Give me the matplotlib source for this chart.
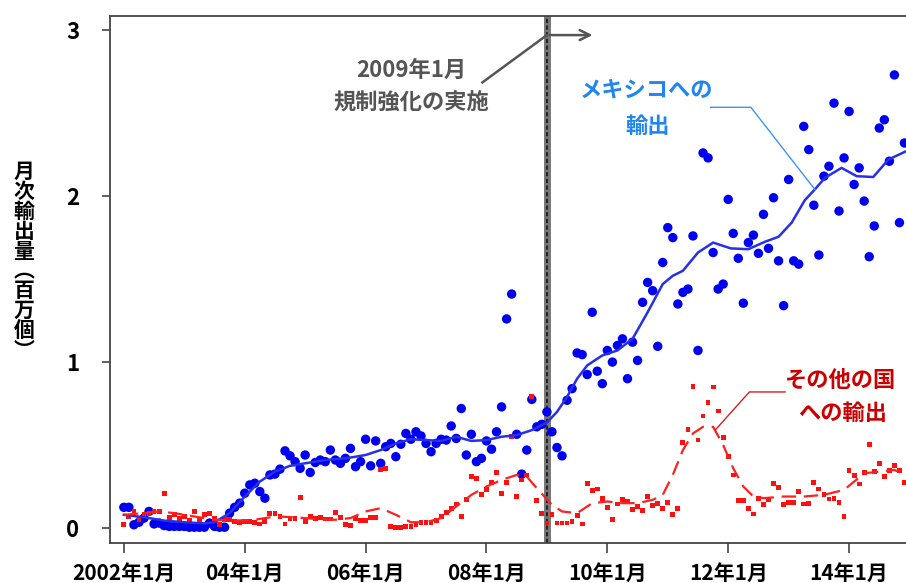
import numpy as np
import matplotlib
matplotlib.use('Agg')
import matplotlib.pyplot as plt

plt.rcParams['font.family'] = ['Noto Sans CJK JP', 'DejaVu Sans']

#-----------------------------------------------------------------------------------------------------------------------
# Data (months counted from 2002-01)

tick_months = [0, 24, 48, 72, 96, 120, 144]
tick_labels = ['2002年1月', '04年1月', '06年1月', '08年1月', '10年1月', '12年1月', '14年1月']

# monthly exports to Mexico (million units)
mexico = [0.125, 0.125, 0.02, 0.035, 0.06, 0.10, 0.025, 0.03, 0.015, 0.01,
          0.01, 0.01, 0.01, 0.005, 0.005, 0.005, 0.005, 0.03, 0.01, 0.005,
          0.005, 0.09, 0.125, 0.15, 0.21, 0.26, 0.27, 0.22, 0.18, 0.32,
          0.325, 0.355, 0.465, 0.435, 0.40, 0.36, 0.44, 0.335, 0.395, 0.41,
          0.40, 0.47, 0.41, 0.39, 0.42, 0.48, 0.37, 0.40, 0.535, 0.375,
          0.525, 0.39, 0.49, 0.51, 0.43, 0.505, 0.57, 0.535, 0.58, 0.555,
          0.51, 0.46, 0.51, 0.535, 0.53, 0.615, 0.54, 0.72, 0.44, 0.565,
          0.40, 0.42, 0.525, 0.475, 0.58, 0.73, 1.26, 1.41, 0.565, 0.325,
          0.47, 0.775, 0.61, 0.625, 0.70, 0.58, 0.485, 0.435, 0.77, 0.84,
          1.055, 1.045, 0.925, 1.30, 0.945, 0.87, 1.07, 1.00, 1.10, 1.14,
          0.90, 1.12, 1.01, 1.36, 1.48, 1.43, 1.095, 1.60, 1.81, 1.75,
          1.35, 1.42, 1.44, 1.76, 1.07, 2.26, 2.23, 1.66, 1.44, 1.47,
          1.98, 1.775, 1.625, 1.355, 1.72, 1.765, 1.655, 1.89, 1.685, 1.99,
          1.61, 1.34, 2.10, 1.61, 1.59, 2.42, 2.28, 1.945, 1.645, 2.12,
          2.18, 2.56, 1.91, 2.23, 2.51, 2.07, 2.17, 1.97, 1.635, 1.82,
          2.41, 2.46, 2.21, 2.73, 1.84, 2.32]

# monthly exports to other countries (million units)
others = [0.02, 0.07, 0.10, 0.05, 0.08, 0.09, 0.10, 0.10, 0.21, 0.065,
          0.08, 0.06, 0.07, 0.045, 0.10, 0.045, 0.08, 0.09, 0.06, 0.02,
          0.05, 0.05, 0.04, 0.03, 0.04, 0.04, 0.035, 0.025, 0.04, 0.09,
          0.09, 0.07, 0.025, 0.06, 0.06, 0.185, 0.04, 0.07, 0.06, 0.065,
          0.055, 0.055, 0.095, 0.065, 0.02, 0.015, 0.06, 0.045, 0.045, 0.065,
          0.065, 0.355, 0.36, 0.01, 0.005, 0.005, 0.01, 0.01, 0.02, 0.035,
          0.035, 0.035, 0.045, 0.07, 0.095, 0.12, 0.145, 0.07, 0.17, 0.31,
          0.30, 0.20, 0.23, 0.275, 0.335, 0.21, 0.275, 0.55, 0.19, 0.29,
          0.32, 0.795, 0.165, 0.09, 0.03, 0.08, 0.03, 0.03, 0.03, 0.04,
          0.075, 0.025, 0.27, 0.225, 0.235, 0.18, 0.125, 0.05, 0.145, 0.17,
          0.16, 0.11, 0.13, 0.105, 0.19, 0.135, 0.15, 0.12, 0.155, 0.08,
          0.12, 0.515, 0.595, 0.855, 0.53, 0.675, 0.755, 0.85, 0.705, 0.545,
          0.43, 0.32, 0.165, 0.165, 0.12, 0.085, 0.18, 0.14, 0.17, 0.27,
          0.245, 0.14, 0.155, 0.155, 0.22, 0.145, 0.15, 0.275, 0.235, 0.20,
          0.175, 0.18, 0.155, 0.07, 0.345, 0.315, 0.265, 0.335, 0.505, 0.34,
          0.39, 0.31, 0.345, 0.375, 0.345, 0.275]

# smoothed trends
mexico_trend_m = [0, 4, 8, 12, 16, 18, 21, 24, 27, 30, 33, 36, 40, 44, 48, 51, 54, 57, 60, 63,
                  66, 69, 72, 75, 78, 81, 84, 86, 88, 90, 92, 95, 98, 101, 104, 107, 109, 111,
                  114, 117, 120.5, 124, 127.3, 130, 132.6, 135.2, 137.2, 139.2, 142.5, 145.5,
                  148.8, 151.8, 155.3]
mexico_trend = [0.08, 0.065, 0.045, 0.035, 0.028, 0.035, 0.09, 0.19, 0.28, 0.34, 0.375, 0.39,
                0.41, 0.42, 0.44, 0.47, 0.51, 0.535, 0.53, 0.525, 0.55, 0.525, 0.53, 0.55, 0.56,
                0.59, 0.635, 0.70, 0.79, 0.90, 0.98, 1.04, 1.07, 1.14, 1.30, 1.47, 1.52, 1.55,
                1.66, 1.72, 1.685, 1.68, 1.725, 1.755, 1.84, 1.975, 2.04, 2.11, 2.17, 2.12,
                2.115, 2.22, 2.27]

others_trend_m = [0, 4, 7, 10, 14, 18, 22, 26, 30, 34, 38, 42, 45, 48, 51, 54, 57, 60, 63, 66,
                  69, 72, 75, 78, 80, 82, 85, 87, 90, 93, 96, 99, 102, 105, 107, 109, 111, 113,
                  115, 117, 119, 121, 123, 125, 127, 131, 135, 139, 143, 145, 147, 150, 153, 155.3]
others_trend = [0.08, 0.09, 0.10, 0.09, 0.07, 0.05, 0.045, 0.05, 0.07, 0.065, 0.055, 0.05, 0.06,
                0.10, 0.12, 0.08, 0.035, 0.035, 0.06, 0.13, 0.20, 0.25, 0.29, 0.32, 0.31, 0.24,
                0.14, 0.10, 0.09, 0.15, 0.16, 0.15, 0.15, 0.17, 0.20, 0.32, 0.47, 0.57, 0.61,
                0.61, 0.50, 0.36, 0.25, 0.19, 0.18, 0.19, 0.19, 0.20, 0.23, 0.28, 0.33, 0.34,
                0.35, 0.32]

regulation_month = 84

#-----------------------------------------------------------------------------------------------------------------------
# Plot

months = np.arange(len(mexico))

fig = plt.figure(figsize=(9.06, 5.83), dpi=100)
ax = fig.add_axes([110 / 906, 1 - 543 / 583, 1 - 110 / 906, (543 - 16) / 583])

ax.axvline(regulation_month, color='#777777', lw=5, zorder=1)
ax.axvline(regulation_month, color='#111111', lw=1.2, dashes=(2.5, 1.5), zorder=1.5)

ax.scatter(months, mexico, s=46, color='#0000f0', edgecolors='none', zorder=3)
ax.scatter(months, others, s=12, marker='s', color='#ff1010', edgecolors='none', zorder=3)
ax.plot(mexico_trend_m, mexico_trend, color='#2630e8', lw=1.8, zorder=4)
ax.plot(others_trend_m, others_trend, color='#ff2020', lw=1.6, dashes=(6.5, 3.5), zorder=4)

ax.set_xlim(-2.75, 155.3)
ax.set_ylim(-0.09, 3.085)

for side in ['left', 'bottom', 'top']:
    ax.spines[side].set_color('#444444')
    ax.spines[side].set_linewidth(1.3)
ax.spines['right'].set_visible(False)

ax.set_xticks(tick_months)
ax.set_xticklabels(tick_labels, fontsize=15, fontweight='bold')
ax.set_yticks([0, 1, 2, 3])
ax.set_yticklabels(['0', '1', '2', '3'], fontsize=16, fontweight='bold')
ax.tick_params(axis='x', length=7, width=1.2, color='#444444', pad=7)
ax.tick_params(axis='y', length=6, width=1.2, color='#444444', pad=16)

# y label, stacked vertically
fig.text(24 / 906, 1 - 261 / 583, '月\n次\n輸\n出\n量\n︵\n百\n万\n個\n︶', fontsize=15,
         fontweight='bold', ha='center', va='center', linespacing=0.93)

# regulation annotation
ax.text(57, 2.76, '2009年1月', fontsize=16, fontweight='bold', color='#555555', ha='center', va='center')
ax.text(57, 2.56, '規制強化の実施', fontsize=16, fontweight='bold', color='#555555', ha='center', va='center')
ax.plot([71.2, regulation_month], [2.685, 2.97], color='#555555', lw=1.8, zorder=5)
ax.annotate('', xy=(93.6, 2.97), xytext=(regulation_month, 2.97),
            arrowprops=dict(arrowstyle='->', color='#555555', lw=1.8, mutation_scale=18), zorder=5)

# series labels
ax.text(103.7, 2.64, 'メキシコへの', fontsize=16, fontweight='bold', color='#1f86f0', ha='center', va='center')
ax.text(104, 2.42, '輸出', fontsize=16, fontweight='bold', color='#1f86f0', ha='center', va='center')
ax.plot([116.5, 124.5, 137.2], [2.535, 2.535, 2.04], color='#3a96f5', lw=1.0, zorder=5)

ax.text(142.2, 0.89, 'その他の国', fontsize=16, fontweight='bold', color='#cc0000', ha='center', va='center')
ax.text(142.8, 0.69, 'への輸出', fontsize=16, fontweight='bold', color='#cc0000', ha='center', va='center')
ax.plot([131.3, 124.2, 117.4], [0.82, 0.82, 0.59], color='#cc2222', lw=1.0, zorder=5)

fig.savefig('out.png', dpi=100)
